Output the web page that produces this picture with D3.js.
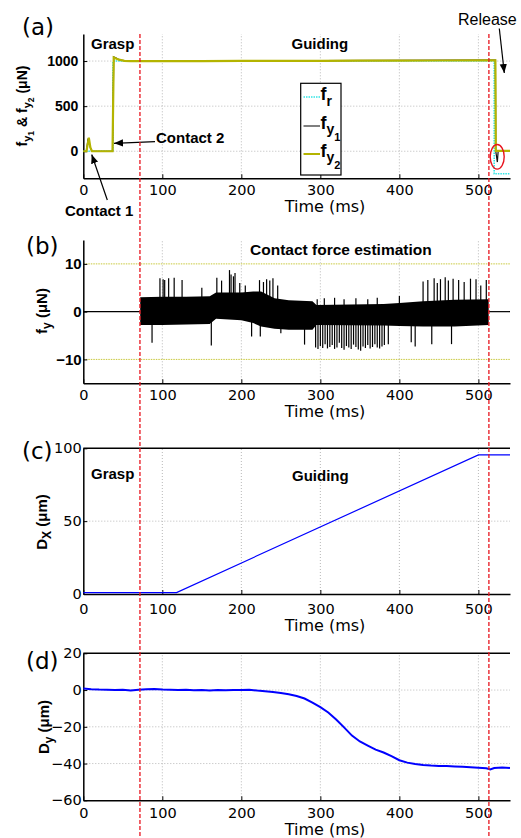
<!DOCTYPE html>
<html><head><meta charset="utf-8">
<script src="https://cdn.jsdelivr.net/npm/d3@7"></script>
<style>body{margin:0;background:#fff}svg{display:block}</style>
</head><body>
<svg id="fig" width="521" height="838"></svg>
<script>
// ---------- data ----------
const timeTicks = [0, 100, 200, 300, 400, 500];
const ticksA = [0, 500, 1000];
const ticksB = [-10, 0, 10];
const ticksC = [0, 50, 100];
const ticksD = [-60, -40, -20, 0, 20];
const phaseTimes = [71.7, 513.3];

// (a) forces
const frT  = [0, 37.5, 37.5, 520, 520, 540];
const frV  = [0, 0, 1000, 1000, -250, -250];
const fy1T = [0, 4, 6, 9, 11, 37, 38.5, 41, 46, 55, 100, 200, 300, 400, 500, 521.5, 522, 524, 525, 540];
const fy1V = [0, 0, 140, 40, 0, 0, 1045, 1035, 1012, 1002, 1001, 1004, 1005, 1007, 1010, 1010, 0, -120, 0, 0];
const fy2T = [0, 4, 7, 9, 11, 37, 38.5, 40, 45, 52, 60, 100, 150, 200, 250, 300, 350, 400, 450, 500, 521.5, 522, 540];
const fy2V = [0, 0, 150, 40, 0, 0, 1040, 1035, 1015, 1003, 1000, 999, 1000, 1001, 1002, 1003, 1004, 1005, 1006, 1008, 1008, 5, 5];

// (b) estimated contact force: noise envelope + spikes
const zeroSegT = [[0, 71.7], [513.3, 540]];
const noiseT  = [72, 100, 130, 160, 168, 200, 215, 225, 242, 260, 290, 295, 380, 400, 430, 470, 513];
const noiseHi = [3.0, 3.1, 3.1, 3.2, 4.0, 4.0, 4.2, 4.2, 2.8, 2.4, 2.2, 1.4, 1.6, 1.8, 2.2, 2.5, 2.6];
const noiseLo = [-2.8, -2.8, -2.7, -2.6, -1.5, -1.8, -2.4, -3.1, -3.6, -3.8, -3.8, -2.8, -2.9, -3.0, -3.1, -3.1, -2.8];
const spikeT = [97, 101, 103, 108, 115, 125, 150, 169, 175, 185, 187, 190, 192, 198, 205, 223, 228, 232, 236, 240, 246,
  296, 305, 318, 330, 345, 360, 372, 400, 430, 436, 444, 448, 452, 458, 462, 468, 475, 482, 490, 497, 503, 510,
  87, 162, 213, 224, 250, 280,
  294, 297, 300, 303, 306, 309, 312, 315, 318, 321, 324, 327, 330, 333, 336, 339, 342, 345, 348, 351, 354, 357, 360, 363, 366, 369, 372, 375, 378, 381,
  386, 415, 420, 441, 466];
const spikeV = [7.0, 6.8, 6.6, 7.0, 7.1, 6.6, 5.0, 7.1, 6.5, 8.7, 7.8, 7.4, 8.1, 6.0, 5.5, 6.6, 6.2, 6.8, 6.5, 7.0, 5.5,
  2.6, 2.8, 2.9, 2.6, 2.8, 2.6, 2.9, 3.3, 6.3, 6.6, 7.0, 6.0, 6.8, 7.2, 6.5, 6.9, 6.6, 6.2, 6.9, 6.8, 5.5, 6.6,
  -6.5, -7.1, -5.2, -5.2, -4.5, -6.9,
  -7.5, -7.8, -7.2, -7.6, -6.8, -7.7, -7.4, -7.0, -7.8, -7.5, -6.5, -7.6, -8.0, -7.2, -7.5, -7.8, -6.9, -7.4, -7.9, -8.2, -7.3, -7.6, -7.0, -7.7, -7.4, -6.8, -7.5, -7.7, -7.3, -7.0,
  -6.8, -6.4, -7.3, -6.8, -6.8];

// (c) Dx
const dxT = [0, 118, 500, 540];
const dxV = [1, 1, 95.5, 95.5];

// (d) Dy
const dyT = [0, 10, 20, 30, 40, 50, 60, 70, 80, 90, 100, 110, 120, 130, 140, 150, 160, 170, 180, 190, 200, 210, 220, 230, 240, 250, 260, 270, 280, 290, 300, 310, 320, 330, 340, 350, 360, 370, 380, 390, 400, 410, 420, 430, 440, 450, 460, 470, 480, 490, 500, 510, 515, 520, 530, 540];
const dyV = [0.8, 0.5, 0.3, 0.2, 0.0, 0.1, -0.2, 0.2, 0.5, 0.6, 0.3, 0.2, 0.0, 0.1, -0.1, 0.0, -0.2, 0.0, -0.1, 0.0, 0.0, 0.1, -0.3, -0.6, -1.0, -1.6, -2.3, -3.2, -4.6, -6.8, -9.3, -12.2, -16.0, -20.3, -24.8, -28.0, -30.2, -32.4, -34.0, -36.0, -38.2, -39.5, -40.2, -40.8, -41.1, -41.3, -41.4, -41.6, -41.8, -42.0, -42.3, -42.6, -43.2, -42.4, -42.2, -42.4];

// ---------- layout ----------
const svg = d3.select('#fig');
const x = d3.scaleLinear().domain([0, 540]).range([83.3, 510]);
const yA = d3.scaleLinear().domain([-300, 1300]).range([178.3, 34]);
const yB = d3.scaleLinear().domain([-15, 15]).range([383.3, 240]);
const yC = d3.scaleLinear().domain([0, 100]).range([594, 448.3]);
const yD = d3.scaleLinear().domain([-60, 20]).range([800.3, 653.3]);

const SANS = "'Liberation Sans', Arial, sans-serif";
const DEJ = "'DejaVu Sans', sans-serif";
const gridCol = '#b8b8b8';
const fmt = d3.format('d');

function panel(y, yTicks, yGrid, o) {
  const g = svg.append('g');
  const [yb, yt] = y.range();
  g.selectAll(null).data(timeTicks.filter(t => t > 0)).enter().append('line')
    .attr('x1', d => x(d)).attr('x2', d => x(d)).attr('y1', yb).attr('y2', yt)
    .attr('stroke', gridCol).attr('stroke-width', 1).attr('stroke-dasharray', '1,2');
  g.selectAll(null).data(yGrid).enter().append('line')
    .attr('x1', x.range()[0]).attr('x2', x.range()[1]).attr('y1', d => y(d)).attr('y2', d => y(d))
    .attr('stroke', o.hgridCol || gridCol).attr('stroke-width', 1).attr('stroke-dasharray', o.hgridDash || '1,2');
  if (o.topBorder) {
    g.append('line').attr('x1', x.range()[0]).attr('x2', x.range()[1]).attr('y1', yt).attr('y2', yt)
      .attr('stroke', '#000').attr('stroke-width', 1.5);
  }
  const xa = g.append('g').attr('transform', `translate(0,${yb})`)
    .call(d3.axisBottom(x).tickValues(timeTicks).tickFormat(fmt).tickSizeInner(-4).tickSizeOuter(0).tickPadding(o.xPad));
  xa.selectAll('text').attr('font-family', DEJ).attr('font-size', 14.5).attr('fill', '#000');
  const ya = g.append('g').attr('transform', `translate(${x.range()[0]},0)`)
    .call(d3.axisLeft(y).tickValues(yTicks).tickFormat(fmt).tickSizeInner(-4).tickSizeOuter(0).tickPadding(o.yPad));
  ya.selectAll('text').attr('font-family', o.yFont).attr('font-size', o.yFontSize)
    .attr('font-weight', o.yBold ? 'bold' : 'normal').attr('fill', '#000');
  [xa, ya].forEach(a => {
    a.select('.domain').attr('stroke', '#000').attr('stroke-width', 1.5);
    a.selectAll('.tick line').attr('stroke', '#000').attr('stroke-width', 1);
  });
  g.append('text').attr('x', 325).attr('y', o.timeY).attr('text-anchor', 'middle')
    .attr('font-family', DEJ).attr('font-size', 16).text('Time (ms)');
  g.append('text').attr('x', o.lab[0]).attr('y', o.lab[1]).attr('font-family', DEJ)
    .attr('font-size', 23).text(o.label);
  return g;
}

function yTitle(px, py, size, parts) {
  const t = svg.append('text').attr('transform', `translate(${px},${py}) rotate(-90)`)
    .attr('text-anchor', 'middle').attr('font-family', SANS).attr('font-weight', 'bold')
    .attr('font-size', size);
  parts.forEach(p => {
    const s = t.append('tspan').text(p[0]);
    if (p[1]) s.attr('dy', p[1]);
    if (p[2]) s.attr('font-size', p[2]);
  });
}

function boldText(tx, ty, size, str, weight) {
  svg.append('text').attr('x', tx).attr('y', ty).attr('font-family', SANS)
    .attr('font-weight', weight || 'bold').attr('font-size', size).text(str);
}

// ---------- panel (a) ----------
const gA = panel(yA, ticksA, ticksA, {xPad: 6.3, yPad: 5, yFont: SANS, yFontSize: 14, yBold: true, timeY: 212, label: '(a)', lab: [22, 35]});
const lineA = d3.line().x(d => x(d[0])).y(d => yA(d[1]));
gA.append('path').attr('d', lineA(d3.zip(frT, frV))).attr('fill', 'none')
  .attr('stroke', '#33e5e5').attr('stroke-width', 1.6).attr('stroke-dasharray', '1.5,1');
gA.append('path').attr('d', lineA(d3.zip(fy1T, fy1V))).attr('fill', 'none')
  .attr('stroke', '#111').attr('stroke-width', 1.2);
gA.append('path').attr('d', lineA(d3.zip(fy2T, fy2V))).attr('fill', 'none')
  .attr('stroke', '#b4b400').attr('stroke-width', 2.2);

// legend
const lg = svg.append('g');
lg.append('rect').attr('x', 300.7).attr('y', 83.3).attr('width', 40.3).attr('height', 91.7)
  .attr('fill', '#fff').attr('stroke', '#000').attr('stroke-width', 1.2);
const legendItems = [
  {y: 97, col: '#33e5e5', dash: '1.5,1', w: 1.6, sub: 'r', subsub: ''},
  {y: 126, col: '#555', dash: null, w: 1.5, sub: 'y', subsub: '1'},
  {y: 154, col: '#b4b400', dash: null, w: 2, sub: 'y', subsub: '2'}
];
legendItems.forEach(it => {
  const l = lg.append('line').attr('x1', 303.5).attr('x2', 320).attr('y1', it.y).attr('y2', it.y)
    .attr('stroke', it.col).attr('stroke-width', it.w);
  if (it.dash) l.attr('stroke-dasharray', it.dash);
  const t = lg.append('text').attr('x', 320.5).attr('y', it.y + 3).attr('font-family', SANS)
    .attr('font-weight', 'bold').attr('font-size', 18);
  t.append('tspan').text('f');
  t.append('tspan').attr('dy', it.subsub ? 5 : 6).attr('font-size', 14).text(it.sub);
  if (it.subsub) t.append('tspan').attr('dy', 7).attr('font-size', 11).text(it.subsub);
});

yTitle(26.5, 106, 14, [['f'], ['y', 4, 11], ['1', 3, 8.5], [' & f', -7, 14], ['y', 4, 11], ['2', 3, 8.5], [' (μN)', -7, 14]]);

boldText(91, 48.5, 15, 'Grasp');
boldText(291.5, 48.5, 15, 'Guiding');
boldText(156, 143, 15, 'Contact 2');
boldText(65, 216, 15, 'Contact 1');
boldText(458, 25, 16, 'Release', 'normal');

const defs = svg.append('defs');
defs.append('marker').attr('id', 'ah').attr('viewBox', '0 0 10 10').attr('refX', 10).attr('refY', 5)
  .attr('markerWidth', 9).attr('markerHeight', 9).attr('markerUnits', 'userSpaceOnUse').attr('orient', 'auto')
  .append('path').attr('d', 'M0,1 L10,5 L0,9 Z').attr('fill', '#000');
function arrow(x1, y1, x2, y2) {
  svg.append('line').attr('x1', x1).attr('y1', y1).attr('x2', x2).attr('y2', y2)
    .attr('stroke', '#000').attr('stroke-width', 1.2).attr('marker-end', 'url(#ah)');
}
arrow(499.3, 28.5, 504.3, 73);
arrow(155, 141.7, 114, 143.3);
arrow(107.3, 200, 91.7, 154.5);

svg.append('ellipse').attr('cx', 497.2).attr('cy', 156.8).attr('rx', 7).attr('ry', 12.3)
  .attr('fill', 'none').attr('stroke', '#e8141e').attr('stroke-width', 1.4);

// ---------- panel (b) ----------
const gB = panel(yB, ticksB, [-10, 10], {xPad: 6.3, yPad: 1.6, yFont: SANS, yFontSize: 15, yBold: true, timeY: 417, label: '(b)', lab: [26, 254], hgridCol: '#c8c83c', hgridDash: '1.5,1'});
zeroSegT.forEach(s => gB.append('line').attr('x1', x(s[0])).attr('x2', x(s[1])).attr('y1', yB(0)).attr('y2', yB(0))
  .attr('stroke', '#000').attr('stroke-width', 1.2));
const noiseArea = d3.area().x(d => x(d[0])).y0(d => yB(d[2])).y1(d => yB(d[1]));
gB.append('path').attr('d', noiseArea(d3.zip(noiseT, noiseHi, noiseLo))).attr('fill', '#000');
gB.selectAll(null).data(d3.zip(spikeT, spikeV)).enter().append('line')
  .attr('x1', d => x(d[0])).attr('x2', d => x(d[0])).attr('y1', yB(0)).attr('y2', d => yB(d[1]))
  .attr('stroke', '#000').attr('stroke-width', 1.2);
yTitle(46.5, 311, 15, [['f'], ['y', 4, 12], [' (μN)', -4, 15]]);
boldText(250, 255, 15.5, 'Contact force estimation');

// ---------- panel (c) ----------
const gC = panel(yC, ticksC, [50], {xPad: 10, yPad: 1.6, yFont: DEJ, yFontSize: 14.5, yBold: false, timeY: 631, label: '(c)', lab: [22, 459], topBorder: true});
gC.append('path').attr('d', d3.line().x(d => x(d[0])).y(d => yC(d[1]))(d3.zip(dxT, dxV)))
  .attr('fill', 'none').attr('stroke', '#0000ff').attr('stroke-width', 1.2);
yTitle(46.5, 522, 15, [['D'], ['X', 4, 12], [' (μm)', -4, 15]]);
boldText(91, 479, 15, 'Grasp');
boldText(292, 480.5, 15, 'Guiding');

// ---------- panel (d) ----------
const gD = panel(yD, ticksD, [-40, -20, 0], {xPad: 7.3, yPad: 1.6, yFont: DEJ, yFontSize: 14.5, yBold: false, timeY: 835, label: '(d)', lab: [26, 669], topBorder: true});
gD.append('path').attr('d', d3.line().x(d => x(d[0])).y(d => yD(d[1]))(d3.zip(dyT, dyV)))
  .attr('fill', 'none').attr('stroke', '#0000ff').attr('stroke-width', 2);
yTitle(49, 727, 15, [['D'], ['y', 4, 12], [' (μm)', -4, 15]]);

// ---------- phase separators ----------
svg.selectAll(null).data(phaseTimes).enter().append('line')
  .attr('x1', d => x(d)).attr('x2', d => x(d)).attr('y1', 34).attr('y2', 838)
  .attr('stroke', '#e8141e').attr('stroke-width', 1.3).attr('stroke-dasharray', '4,2');
</script>
</body></html>
